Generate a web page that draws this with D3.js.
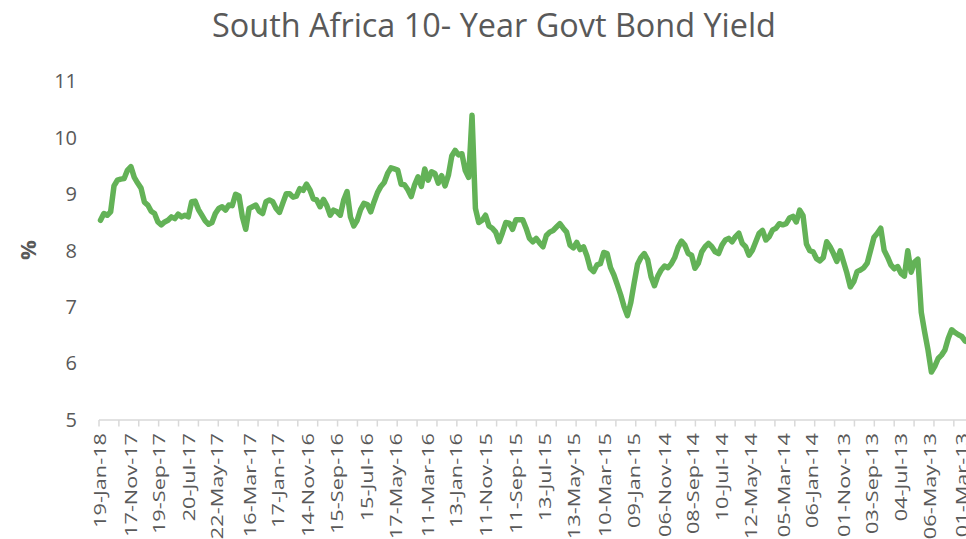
<!DOCTYPE html>
<html>
<head>
<meta charset="utf-8">
<script src="https://cdn.jsdelivr.net/npm/d3@7/dist/d3.min.js"></script>
<style>
  html, body { margin: 0; padding: 0; background: #fff; }
  svg { display: block; }
  text { font-family: "Open Sans", "Noto Sans", sans-serif; fill: #595959; }
</style>
</head>
<body>
<svg id="chart" width="966" height="539"></svg>
<script>
// South Africa 10-year government bond yield, weekly readings, newest first
const firstWeek = "19-Jan-18";
const yieldPct = [
  8.54, 8.66, 8.63, 8.69, 9.15, 9.25, 9.27, 9.28, 9.43, 9.49,
  9.30, 9.20, 9.11, 8.86, 8.81, 8.70, 8.66, 8.51, 8.46, 8.51,
  8.54, 8.60, 8.57, 8.65, 8.60, 8.63, 8.60, 8.87, 8.88, 8.73,
  8.63, 8.53, 8.47, 8.50, 8.66, 8.75, 8.78, 8.72, 8.81, 8.80,
  9.00, 8.97, 8.60, 8.38, 8.75, 8.78, 8.81, 8.70, 8.66, 8.87,
  8.90, 8.87, 8.75, 8.68, 8.85, 9.01, 9.01, 8.95, 8.97, 9.10,
  9.07, 9.18, 9.08, 8.92, 8.90, 8.78, 8.91, 8.80, 8.63, 8.72,
  8.69, 8.63, 8.90, 9.05, 8.60, 8.44, 8.54, 8.73, 8.84, 8.82,
  8.69, 8.87, 9.03, 9.14, 9.21, 9.37, 9.47, 9.45, 9.43, 9.18,
  9.17, 9.08, 8.96, 9.17, 9.31, 9.14, 9.45, 9.25, 9.40, 9.37,
  9.20, 9.33, 9.15, 9.34, 9.68, 9.78, 9.70, 9.72, 9.42, 9.30,
  10.40, 8.75, 8.50, 8.54, 8.63, 8.44, 8.40, 8.33, 8.16, 8.32,
  8.50, 8.49, 8.38, 8.55, 8.55, 8.55, 8.40, 8.22, 8.16, 8.22,
  8.14, 8.07, 8.27, 8.33, 8.36, 8.42, 8.48, 8.40, 8.33, 8.10,
  8.05, 8.15, 8.02, 8.07, 7.91, 7.69, 7.63, 7.75, 7.77, 7.97,
  7.95, 7.70, 7.57, 7.40, 7.22, 7.01, 6.85, 7.08, 7.43, 7.76,
  7.88, 7.95, 7.84, 7.54, 7.38, 7.55, 7.66, 7.73, 7.70, 7.77,
  7.88, 8.06, 8.17, 8.10, 7.95, 7.92, 7.69, 7.78, 7.98, 8.07,
  8.13, 8.07, 7.98, 7.95, 8.10, 8.19, 8.22, 8.16, 8.25, 8.31,
  8.13, 8.07, 7.92, 8.01, 8.16, 8.31, 8.36, 8.19, 8.25, 8.37,
  8.40, 8.48, 8.46, 8.48, 8.58, 8.61, 8.51, 8.72, 8.62, 8.12,
  8.00, 7.98, 7.86, 7.82, 7.88, 8.16, 8.07, 7.95, 7.81, 8.00,
  7.80, 7.60, 7.36, 7.45, 7.63, 7.66, 7.70, 7.78, 8.01, 8.24,
  8.31, 8.40, 8.01, 7.89, 7.75, 7.68, 7.72, 7.60, 7.55, 8.00,
  7.62, 7.80, 7.85, 6.91, 6.56, 6.24, 5.85, 5.95, 6.09, 6.15,
  6.24, 6.45, 6.60, 6.55, 6.51, 6.48, 6.40, 6.38
];

// Category labels along the date axis (every ~2 months, newest first)
const dateLabels = [
  "19-Jan-18", "17-Nov-17", "19-Sep-17", "20-Jul-17", "22-May-17", "16-Mar-17",
  "17-Jan-17", "14-Nov-16", "15-Sep-16", "15-Jul-16", "17-May-16", "11-Mar-16",
  "13-Jan-16", "11-Nov-15", "11-Sep-15", "13-Jul-15", "13-May-15", "10-Mar-15",
  "09-Jan-15", "06-Nov-14", "08-Sep-14", "10-Jul-14", "12-May-14", "05-Mar-14",
  "06-Jan-14", "01-Nov-13", "03-Sep-13", "04-Jul-13", "06-May-13", "01-Mar-13"
];

const yTicks = [5, 6, 7, 8, 9, 10, 11];
const titleText = "South Africa 10- Year Govt Bond Yield";
const yTitle = "%";

const W = 966, H = 539;
const svg = d3.select("#chart");
const parse = d3.timeParse("%d-%b-%y");
const DAY = 864e5;

const start = parse(firstWeek);
const series = yieldPct.map((v, i) => ({ date: new Date(start.getTime() - i * 7 * DAY), value: v }));

// Time runs right-to-left: newest on the left edge
const x = d3.scaleTime()
  .domain([parse(dateLabels[0]), parse(dateLabels[dateLabels.length - 1])])
  .range([100.5, 961.8]);
const y = d3.scaleLinear().domain([5, 11]).range([420, 81.5]);

// Title, sized to its full width
const title = svg.append("text")
  .attr("x", 494).attr("y", 37)
  .attr("text-anchor", "middle")
  .style("font-size", "30px")
  .text(titleText);
const tLen = title.node().getComputedTextLength();
title.style("font-size", (30 * 564 / tLen) + "px");

// Y axis labels (no axis line, no gridlines)
const yAxis = d3.axisLeft(y).tickValues(yTicks).tickFormat(d3.format("d")).tickSize(0).tickPadding(0);
const gy = svg.append("g").attr("transform", "translate(77,0)").call(yAxis);
gy.select(".domain").remove();
gy.selectAll("text")
  .style("font-family", "'Open Sans', sans-serif")
  .style("font-size", "20px")
  .attr("fill", "#595959");

svg.append("text")
  .attr("transform", "translate(28,250) rotate(-90)")
  .attr("text-anchor", "middle")
  .attr("dy", "0.35em")
  .style("font-size", "22px")
  .style("font-weight", "bold")
  .text(yTitle);

// X axis line and tick marks
const axisY = 420;
const tickStepDays = 41.2;
const tickStart = new Date(parse(dateLabels[0]).getTime() + 3.1 * DAY);
const tickDates = d3.range(0, 48).map(k => new Date(tickStart.getTime() - k * tickStepDays * DAY));
const gx = svg.append("g");
gx.append("line")
  .attr("x1", x(tickStart)).attr("x2", W)
  .attr("y1", axisY).attr("y2", axisY)
  .attr("stroke", "#d9d9d9").attr("stroke-width", 1.5);
gx.selectAll("line.tick").data(tickDates).join("line")
  .attr("class", "tick")
  .attr("x1", d => x(d)).attr("x2", d => x(d))
  .attr("y1", axisY).attr("y2", axisY + 6.5)
  .attr("stroke", "#d9d9d9").attr("stroke-width", 1.5);

// Rotated date labels
const labels = gx.selectAll("text.lbl").data(dateLabels).join("text")
  .attr("class", "lbl")
  .attr("text-anchor", "end")
  .attr("dy", "0.35em")
  .style("font-size", "17px")
  .text(d => d);
const refLen = labels.node().getComputedTextLength();
const stretch = 95 / refLen;
labels.attr("transform", d => `translate(${x(parse(d))},433) rotate(-90) scale(${stretch},1)`);

// Yield line
const line = d3.line().x(d => x(d.date)).y(d => y(d.value));
svg.append("path")
  .datum(series)
  .attr("d", line)
  .attr("fill", "none")
  .attr("stroke", "#63b257")
  .attr("stroke-width", 5.5)
  .attr("stroke-linejoin", "round")
  .attr("stroke-linecap", "round");
</script>
</body>
</html>
